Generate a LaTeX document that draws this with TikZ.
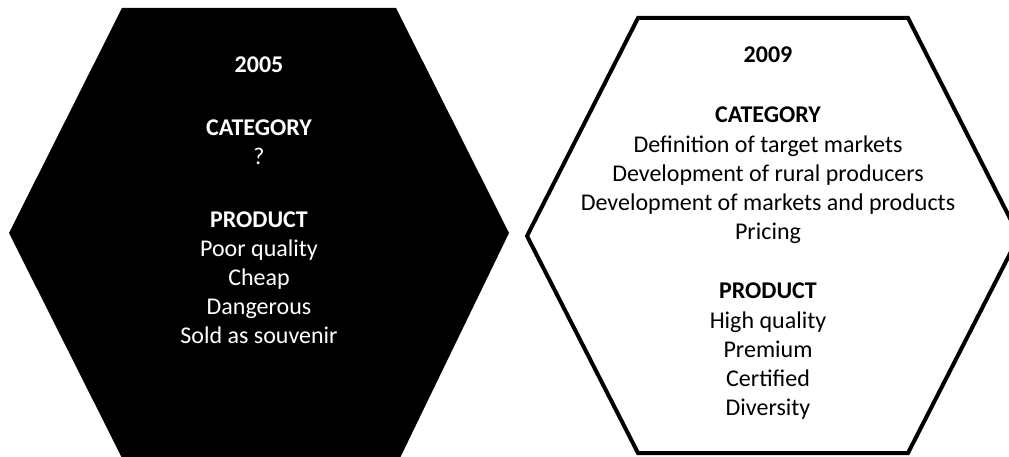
\documentclass[tikz,border=0pt]{standalone}
\usepackage{fontspec}
\setmainfont{Carlito}
\usepackage{xcolor}
\tikzset{
    hexa/.style={line join=miter, line width=4pt},
    txt/.style={anchor=base, align=center, inner sep=0pt, font=\fontsize{24}{29}\selectfont},
    head/.style={txt, font=\fontsize{24}{29}\selectfont\bfseries},
    list/.style={txt, anchor=north}
}
\begin{document}
\begin{tikzpicture}[x=1pt, y=-1pt]
        \useasboundingbox (0,0) rectangle (1009,457);
        \clip (0,0) rectangle (1009,457);
        % 2005
        \fill[black] (122,8) -- (396,8) -- (509,233) -- (400,458) -- (122,458) -- (9,233) -- cycle;
        % 2009
        \draw[hexa] (638,18) -- (908,18) -- (1019,236) -- (908,453) -- (638,453) -- (527,236) -- cycle;
        \node[head, white] (y1) at (259,73) {2005};
        \node[head, white] (c1) at (259,136) {CATEGORY};
        \node[txt, white] (q1) at (259,165) {?};
        \node[head, white] (p1) at (259,228) {PRODUCT};
        % first baseline = top + strut height (20.3pt)
        \node[list, white] (l1) at (259,235.7) {\strut Poor quality\\Cheap\\Dangerous\\Sold as souvenir};
        \node[head] (y2) at (768,63) {2009};
        \node[head] (c2) at (768,123) {CATEGORY};
        \node[list] (q2) at (768,131.7) {\strut Definition of target markets\\Development of rural producers\\Development of markets and products\\Pricing};
        \node[head] (p2) at (768,298) {PRODUCT};
        \node[list] (l2) at (768,307.7) {\strut High quality\\Premium\\Certified\\Diversity};
    \end{tikzpicture}
\end{document}
